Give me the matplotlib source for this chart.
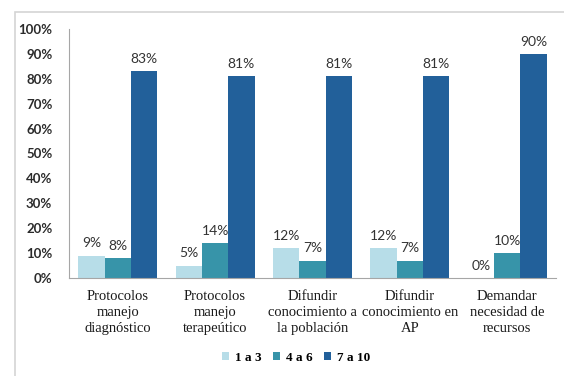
import numpy as np
import matplotlib.pyplot as plt
from matplotlib.patches import Rectangle

# data
categorias = ['Protocolos\nmanejo\ndiagnóstico', 'Protocolos\nmanejo\nterapeútico',
              'Difundir\nconocimiento a\nla población', 'Difundir\nconocimiento en\nAP',
              'Demandar\nnecesidad de\nrecursos']
series = ['1 a 3', '4 a 6', '7 a 10']
v_1a3 = [9, 5, 12, 12, 0]
v_4a6 = [8, 14, 7, 7, 10]
v_7a10 = [83, 81, 81, 81, 90]
colores = ['#b7dde8', '#3794a9', '#22609a']

fig = plt.figure(figsize=(5.64, 3.76), dpi=100)
ax = fig.add_axes([69/564, 1-278/376, (556-69)/564, (278-29)/376])

# light frame around the chart
fig.patches.append(Rectangle((15/564, -0.1), 1.1, 1-12/376+0.1, transform=fig.transFigure,
                             fill=False, ec='#d4d4d4', lw=1.2))

x = np.arange(len(categorias))
w = 0.27
for i, (vals, nombre) in enumerate(zip([v_1a3, v_4a6, v_7a10], series)):
    barras = ax.bar(x + (i-1)*w, vals, w, color=colores[i], label=nombre, zorder=2)
    for b, v in zip(barras, vals):
        ax.annotate(str(v)+'%', (b.get_x()+b.get_width()/2, v), xytext=(0, 4.5),
                    textcoords='offset points', ha='center', va='bottom',
                    family='Lato', fontsize=10, color='#333333')

ax.set_xlim(-0.5, 4.5)
ax.set_ylim(0, 100)
ax.set_yticks(np.arange(0, 101, 10))
ax.set_yticklabels([str(t)+'%' for t in range(0, 101, 10)], family='Lato', fontsize=9.5,
                   fontweight='bold', color='#2b2b2b')
ax.tick_params(axis='y', length=0, pad=12)
ax.set_xticks(x)
ax.set_xticklabels(categorias, family='Liberation Serif', fontsize=10.5, color='#1a1a1a', linespacing=1.28)
ax.tick_params(axis='x', length=0, pad=9)
for s in ['top', 'right']:
    ax.spines[s].set_visible(False)
for s in ['left', 'bottom']:
    ax.spines[s].set_color('#a6a6a6')

leg = fig.legend(loc='center', bbox_to_anchor=(296/564, 1-358/376), ncol=3, frameon=False,
                 handlelength=0.55, handleheight=0.55, handletextpad=0.4, columnspacing=0.9,
                 prop={'family': 'Liberation Serif', 'weight': 'bold', 'size': 9.5})

fig.savefig('out.png', dpi=100)
